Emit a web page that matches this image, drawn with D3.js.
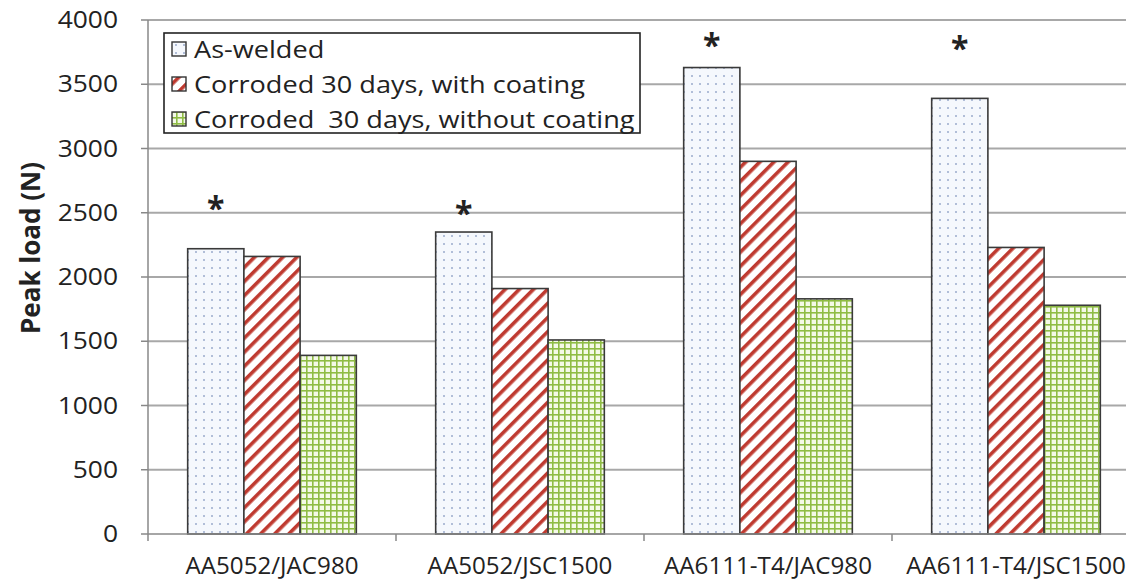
<!DOCTYPE html>
<html>
<head>
<meta charset="utf-8">
<script src="https://cdn.jsdelivr.net/npm/d3@7"></script>
<style>
  body { margin: 0; background: #fff; overflow: hidden; }
  svg text { font-family: "Open Sans", "DejaVu Sans", sans-serif; fill: #222; }
</style>
</head>
<body>
<svg id="chart" width="1126" height="587"></svg>
<script>
// data
var categories = ["AA5052/JAC980", "AA5052/JSC1500", "AA6111-T4/JAC980", "AA6111-T4/JSC1500"];
var seriesNames = ["As-welded", "Corroded 30 days, with coating", "Corroded  30 days, without coating"];
var asWelded = [2220, 2350, 3630, 3390];
var withCoating = [2160, 1910, 2900, 2230];
var withoutCoating = [1390, 1510, 1830, 1780];
var starLevels = [2600, 2560, 3870, 3845];
var yTicks = [0, 500, 1000, 1500, 2000, 2500, 3000, 3500, 4000];

var seriesValues = [asWelded, withCoating, withoutCoating];
var fills = ["url(#dots)", "url(#stripes)", "url(#grid)"];

var svg = d3.select("#chart");
var plotL = 148, plotR = 1140, plotT = 20, plotB = 534;

// patterns
var defs = svg.append("defs");
var dots = defs.append("pattern").attr("id", "dots").attr("patternUnits", "userSpaceOnUse")
    .attr("width", 8).attr("height", 8);
dots.append("rect").attr("width", 8).attr("height", 8).attr("fill", "#f5f8fd");
dots.append("circle").attr("cx", 4).attr("cy", 4).attr("r", 1).attr("fill", "#9aabcc");

var stripes = defs.append("pattern").attr("id", "stripes").attr("patternUnits", "userSpaceOnUse")
    .attr("width", 10).attr("height", 10).attr("patternTransform", "rotate(-45)");
stripes.append("rect").attr("width", 10).attr("height", 10).attr("fill", "#fff");
stripes.append("rect").attr("width", 10).attr("height", 3.6).attr("fill", "#bf3a30");

var grid = defs.append("pattern").attr("id", "grid").attr("patternUnits", "userSpaceOnUse")
    .attr("width", 6).attr("height", 6);
grid.append("rect").attr("width", 6).attr("height", 6).attr("fill", "#f4f9e8");
grid.append("rect").attr("width", 6).attr("height", 1.6).attr("fill", "#8fbc45");
grid.append("rect").attr("width", 1.6).attr("height", 6).attr("fill", "#8fbc45");

// scales
var x = d3.scaleBand().domain(categories).range([plotL, plotR]).paddingInner(0.32).paddingOuter(0.16);
var xs = d3.scaleBand().domain(d3.range(seriesNames.length)).range([0, x.bandwidth()]);
var y = d3.scaleLinear().domain([0, 4000]).range([plotB, plotT]);

// text stretched a little horizontally, like the source
function wideText(g, tx, ty, sx, str, size, anchor) {
    return g.append("text")
        .attr("transform", "translate(" + tx + "," + ty + ") scale(" + sx + ",1)")
        .attr("text-anchor", anchor || "start")
        .style("font-size", size + "px")
        .style("white-space", "pre")
        .text(str);
}

// gridlines
svg.append("g").selectAll("line").data(yTicks.filter(function(d){ return d > 0; })).enter()
    .append("line")
    .attr("x1", plotL).attr("x2", plotR)
    .attr("y1", function(d){ return y(d); }).attr("y2", function(d){ return y(d); })
    .attr("stroke", "#a8a8a8").attr("stroke-width", 2);

// bars
categories.forEach(function(c, ci){
    seriesValues.forEach(function(vals, si){
        svg.append("rect")
            .attr("x", x(c) + xs(si))
            .attr("y", y(vals[ci]))
            .attr("width", xs.bandwidth())
            .attr("height", y(0) - y(vals[ci]))
            .attr("fill", fills[si])
            .attr("stroke", "#3a3a3a").attr("stroke-width", 1.6);
    });
    svg.append("text")
        .attr("x", x(c) + xs(0) + xs.bandwidth() / 2)
        .attr("y", y(starLevels[ci]) + 20)
        .attr("text-anchor", "middle")
        .style("font-size", "32px").style("font-weight", "bold")
        .text("*");
});

// y axis
var yg = svg.append("g");
yg.append("line").attr("x1", plotL).attr("x2", plotL).attr("y1", plotT).attr("y2", plotB)
    .attr("stroke", "#888").attr("stroke-width", 1.5);
yTicks.forEach(function(t){
    yg.append("line").attr("x1", plotL - 7).attr("x2", plotL).attr("y1", y(t)).attr("y2", y(t))
        .attr("stroke", "#888").attr("stroke-width", 1.5);
    wideText(yg, 118, y(t) + 8, 1.1, t, 24, "end").attr("fill", "#333");
});

// x axis
var boundaries = categories.map(function(c){ return x(c) - x.step() * 0.16; });
svg.append("line").attr("x1", plotL).attr("x2", plotR).attr("y1", plotB).attr("y2", plotB)
    .attr("stroke", "#888").attr("stroke-width", 1.5);
svg.append("g").selectAll("line").data(boundaries).enter().append("line")
    .attr("x1", function(d){ return d; }).attr("x2", function(d){ return d; })
    .attr("y1", plotB).attr("y2", plotB + 7)
    .attr("stroke", "#888").attr("stroke-width", 1.5);
var xg = svg.append("g");
categories.forEach(function(c){
    wideText(xg, x(c) + x.bandwidth() / 2, 574, 1.05, c, 23, "middle").attr("fill", "#333");
});

// y title
svg.append("text")
    .attr("transform", "translate(40,248) rotate(-90)")
    .attr("text-anchor", "middle")
    .style("font-size", "26px").style("font-weight", "bold")
    .text("Peak load (N)");

// legend
var lg = svg.append("g").attr("transform", "translate(164,33)");
lg.append("rect").attr("width", 476).attr("height", 100)
    .attr("fill", "#fff").attr("stroke", "#222").attr("stroke-width", 1.6);
seriesNames.forEach(function(name, i){
    var cy = 16 + i * 35;
    lg.append("rect").attr("x", 8).attr("y", cy - 7).attr("width", 14).attr("height", 14)
        .attr("fill", fills[i]).attr("stroke", "#333").attr("stroke-width", 1.4);
    wideText(lg, 30, cy + 9, 1.13, name, 24).attr("fill", "#222");
});
</script>
</body>
</html>
